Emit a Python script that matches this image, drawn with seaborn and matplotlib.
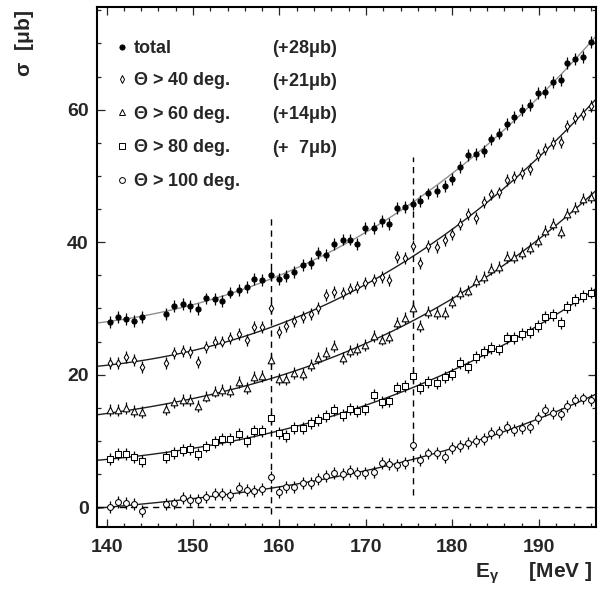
import numpy as np
import seaborn as sns
import matplotlib.pyplot as plt
from matplotlib.lines import Line2D
from matplotlib.ticker import MultipleLocator

# photon energy of the tagger channels (MeV)
energy = [140.4, 141.3, 142.2, 143.2, 144.1, 146.9, 147.8, 148.8, 149.7, 150.6,
          151.5, 152.5, 153.4, 154.3, 155.3, 156.2, 157.1, 158.0, 159.0, 159.9,
          160.8, 161.7, 162.7, 163.6, 164.5, 165.4, 166.3, 167.3, 168.1, 169.0,
          169.9, 170.9, 171.8, 172.7, 173.6, 174.5, 175.4, 176.3, 177.2, 178.2,
          179.1, 180.0, 180.9, 181.8, 182.7, 183.6, 184.5, 185.4, 186.3, 187.1,
          188.1, 189.0, 189.9, 190.7, 191.6, 192.5, 193.3, 194.2, 195.1, 196.0]

# cross sections as plotted (offsets already included), microbarn
total = [28.0, 28.75, 28.4, 28.15, 28.65, 29.15, 30.4, 30.6, 30.4, 29.9,
         31.5, 31.4, 31.1, 32.4, 32.8, 33.3, 34.4, 34.3, 35.0, 34.4,
         34.9, 35.5, 36.5, 36.9, 38.3, 38.0, 39.7, 40.4, 40.4, 39.7,
         42.1, 42.1, 43.2, 42.7, 45.1, 45.25, 45.75, 46.2, 47.35, 47.7,
         48.5, 49.6, 51.4, 53.2, 53.3, 53.8, 55.5, 56.4, 57.8, 58.9,
         59.9, 60.7, 62.5, 62.7, 64.2, 64.5, 67.1, 67.6, 67.9, 70.2]
theta40 = [21.8, 21.7, 22.7, 22.2, 21.1, 21.7, 23.2, 23.6, 23.4, 21.95,
           24.2, 24.9, 25.0, 25.6, 26.1, 25.2, 27.2, 27.2, 30.0, 26.5,
           27.4, 28.15, 28.75, 29.15, 30.0, 32.0, 32.5, 32.3, 33.0, 33.2,
           33.8, 34.3, 34.7, 34.3, 37.8, 37.6, 39.4, 36.9, 39.4, 39.3,
           40.3, 41.2, 42.8, 44.2, 43.7, 46.1, 47.2, 47.5, 49.4, 49.9,
           50.5, 51.1, 53.1, 54.0, 54.9, 55.1, 57.5, 58.7, 59.4, 60.5]
theta60 = [14.7, 14.7, 14.9, 14.55, 14.4, 14.8, 15.8, 16.2, 16.2, 15.2,
           16.7, 17.45, 17.7, 17.55, 18.95, 17.95, 19.6, 19.8, 22.25, 19.3,
           19.3, 20.3, 20.1, 21.5, 22.5, 23.2, 24.3, 22.5, 23.6, 23.9,
           24.5, 25.9, 25.3, 25.7, 27.85, 28.5, 30.1, 27.4, 29.4, 29.35,
           29.25, 31.0, 32.3, 32.7, 34.2, 34.8, 35.9, 36.2, 37.8, 37.7,
           38.4, 39.05, 40.2, 41.7, 42.7, 41.5, 44.3, 45.1, 46.45, 46.85]
theta80 = [7.24, 8.0, 8.0, 7.55, 7.0, 7.55, 8.15, 8.65, 8.75, 8.05,
           9.15, 9.9, 10.25, 10.25, 11.0, 10.0, 11.5, 11.5, 13.4, 11.25,
           10.8, 12.0, 11.9, 12.75, 13.15, 13.8, 14.65, 13.85, 14.75, 14.55,
           14.8, 16.95, 15.85, 15.95, 17.95, 18.3, 19.8, 17.95, 18.85, 18.8,
           19.65, 20.15, 21.7, 21.1, 22.6, 23.4, 24.0, 23.8, 25.6, 25.5,
           26.1, 26.4, 27.4, 28.65, 29.0, 27.85, 30.2, 31.2, 31.9, 32.4]
theta100 = [0.0, 0.75, 0.6, 0.45, -0.6, 0.45, 0.55, 1.35, 1.1, 1.1,
            1.5, 2.05, 2.0, 1.85, 2.85, 2.6, 2.45, 2.7, 4.6, 2.35,
            3.05, 3.1, 3.7, 3.6, 4.3, 4.7, 5.2, 5.0, 5.4, 5.2,
            5.1, 5.25, 6.7, 6.5, 6.3, 6.6, 9.45, 7.1, 8.1, 8.2,
            7.6, 8.9, 9.25, 9.65, 10.05, 10.3, 11.25, 11.4, 12.15, 11.65,
            11.9, 12.15, 13.4, 14.6, 14.2, 14.0, 15.3, 16.2, 16.4, 16.2]
ERR = 0.9

labels = ["total", r"$\mathrm{\Theta}$ > 40 deg.", r"$\mathrm{\Theta}$ > 60 deg.",
          r"$\mathrm{\Theta}$ > 80 deg.", r"$\mathrm{\Theta}$ > 100 deg."]
offset_labels = [r"(+28$\mathrm{\mu}$b)", r"(+21$\mathrm{\mu}$b)",
                 r"(+14$\mathrm{\mu}$b)", r"(+  7$\mathrm{\mu}$b)"]

# bad tagger channels marked by dashed lines
bad_channels = [159.0, 175.4]
bad_lo = [-1.0, 1.8]
bad_hi = [44.0, 52.9]

sns.set_style("ticks")
plt.rcParams.update({
    "font.family": ["Liberation Sans", "DejaVu Sans"],
    "font.weight": "bold",
    "mathtext.fontset": "custom",
    "mathtext.rm": "Liberation Sans",
    "mathtext.bf": "Liberation Sans:bold",
    "mathtext.it": "Liberation Sans:italic",
    "mathtext.default": "regular",
    "axes.linewidth": 1.5,
    "axes.edgecolor": "black",
    "xtick.direction": "in", "ytick.direction": "in",
    "xtick.top": True, "ytick.right": True,
    "xtick.major.size": 6, "ytick.major.size": 6,
    "xtick.minor.size": 3, "ytick.minor.size": 3,
    "xtick.major.width": 0.9, "ytick.major.width": 0.9,
    "xtick.minor.width": 0.9, "ytick.minor.width": 0.9,
})

fig, ax = plt.subplots(figsize=(6.11, 5.95), dpi=100)
fig.subplots_adjust(left=97 / 611, right=596 / 611, bottom=1 - 527 / 595, top=1 - 7 / 595)

x = np.array(energy)
good = ~np.isin(x, bad_channels)
xlim = (138.9, 196.6)
xx = np.linspace(*xlim, 300)

series = [
    (total, "o", 14, "black", "#909090"),
    (theta40, "d", 15, "white", "#202020"),
    (theta60, "^", 23, "white", "#202020"),
    (theta80, "s", 19, "white", "#202020"),
    (theta100, "o", 18, "white", "#202020"),
]

for vals, mk, size, face, fitcol in series:
    y = np.array(vals)
    coef = np.polyfit(x[good], y[good], 3)
    sns.lineplot(x=xx, y=np.polyval(coef, xx), color=fitcol, lw=1.0, ax=ax, zorder=1)
    ax.errorbar(x, y, yerr=ERR, fmt="none", ecolor="black", elinewidth=0.9, zorder=2)
    sns.scatterplot(x=x, y=y, marker=mk, s=size, color=face, edgecolor="black",
                    linewidth=0.75, ax=ax, zorder=3)

ax.axhline(0, color="black", lw=1.0, ls=(0, (4.5, 3.5)), zorder=1)
ax.vlines(bad_channels, bad_lo, bad_hi, colors="black", lw=1.0,
          linestyles=[(0, (4.5, 3.5))], zorder=1)

ax.set_xlim(*xlim)
ax.set_ylim(-3.0, 75.5)
ax.xaxis.set_major_locator(MultipleLocator(10))
ax.xaxis.set_minor_locator(MultipleLocator(2))
ax.yaxis.set_major_locator(MultipleLocator(20))
ax.yaxis.set_minor_locator(MultipleLocator(5))
ax.tick_params(which="both", labelsize=14)
ax.tick_params(axis="x", which="major", pad=9)
ax.tick_params(axis="y", which="major", pad=6)
ax.set_xlabel("")
ax.set_ylabel("")

# legend: markers + names, then the offsets column
handles = [Line2D([], [], ls="none", marker=m, markersize=ms, mfc=f, mec="black", mew=0.7)
           for m, ms, f in [("o", 3.7, "black"), ("d", 4.0, "white"), ("^", 4.4, "white"),
                            ("s", 4.2, "white"), ("o", 4.2, "white")]]
leg_prop = {"size": 13, "weight": "bold"}
leg = ax.legend(handles, labels, loc="upper left", bbox_to_anchor=(0.0395, 0.936),
                borderaxespad=0, borderpad=0, frameon=False, handlelength=0.6,
                handletextpad=0.32, labelspacing=0.70, prop=leg_prop)
ax.add_artist(leg)
ax.legend([Line2D([], [], ls="none")] * 4, offset_labels, loc="upper left",
          bbox_to_anchor=(0.3507, 0.941), borderaxespad=0, borderpad=0, frameon=False,
          handlelength=0, handletextpad=0, labelspacing=0.685, prop=leg_prop)

fig.text(25 / 611, 1 - 43 / 595, r"$\mathrm{\sigma\ \ [\mu}$b$\mathrm{]}$", rotation=90,
         ha="center", va="center", fontsize=15)
fig.text(593 / 611, 1 - 578 / 595,
         r"$\mathbf{E}_{\mathrm{\gamma}}\ \ \ \ \ \mathrm{[}\mathbf{MeV}\ \mathrm{]}$",
         ha="right", va="baseline", fontsize=15)

fig.savefig("out.png", dpi=100)
